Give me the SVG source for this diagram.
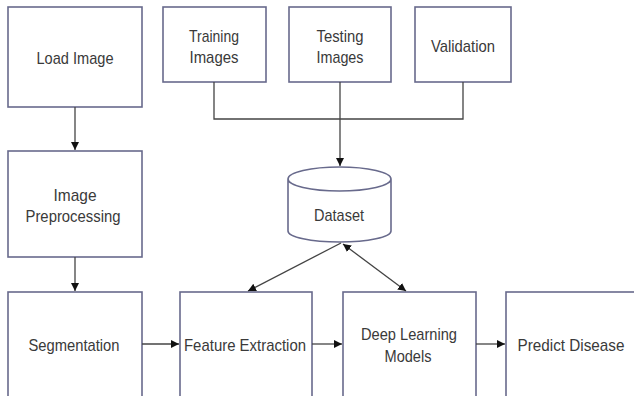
<svg xmlns="http://www.w3.org/2000/svg" width="634" height="396" viewBox="0 0 634 396">
<style>
.box{fill:#fff;stroke:#686a8c;stroke-width:1.6}
.t{font-family:"Liberation Sans",Arial,sans-serif;font-size:17px;fill:#3a3a3a;text-anchor:middle}
.c{fill:none;stroke:#444;stroke-width:1.3}
</style>
<defs>
<marker id="ah" viewBox="0 0 10 10" refX="10" refY="5" markerWidth="8" markerHeight="8" markerUnits="userSpaceOnUse" orient="auto-start-reverse">
<path d="M0,0 L10,5 L0,10 z" fill="#111"/>
</marker>
</defs>
<rect width="634" height="396" fill="#fff"/>
<g id="load-image"><rect class="box" x="8" y="7" width="134" height="100"/><text class="t" x="75" y="64" textLength="77" lengthAdjust="spacingAndGlyphs">Load Image</text></g>
<g id="image-preprocessing"><rect class="box" x="8" y="151" width="134" height="106"/><text class="t" x="75" y="201" textLength="43" lengthAdjust="spacingAndGlyphs">Image</text><text class="t" x="73" y="222" textLength="95" lengthAdjust="spacingAndGlyphs">Preprocessing</text></g>
<g id="segmentation"><rect class="box" x="8" y="292" width="134" height="110"/><text class="t" x="74" y="351" textLength="91" lengthAdjust="spacingAndGlyphs">Segmentation</text></g>
<g id="training-images"><rect class="box" x="163" y="7" width="103" height="75"/><text class="t" x="214" y="42" textLength="50" lengthAdjust="spacingAndGlyphs">Training</text><text class="t" x="214" y="63" textLength="49" lengthAdjust="spacingAndGlyphs">Images</text></g>
<g id="testing-images"><rect class="box" x="289" y="7" width="102" height="75"/><text class="t" x="340" y="42" textLength="47" lengthAdjust="spacingAndGlyphs">Testing</text><text class="t" x="340" y="63" textLength="47" lengthAdjust="spacingAndGlyphs">Images</text></g>
<g id="validation"><rect class="box" x="415" y="7" width="96" height="75"/><text class="t" x="463" y="52" textLength="64" lengthAdjust="spacingAndGlyphs">Validation</text></g>
<g id="dataset"><path class="box" d="M288,179 L288,231 A51.5,11 0 0 0 391,231 L391,179 A51.5,12 0 0 0 288,179 A51.5,12 0 0 0 391,179"/><text class="t" x="339" y="221" textLength="50" lengthAdjust="spacingAndGlyphs">Dataset</text></g>
<g id="feature-extraction"><rect class="box" x="180" y="292" width="132" height="110"/><text class="t" x="245" y="351" textLength="122" lengthAdjust="spacingAndGlyphs">Feature Extraction</text></g>
<g id="deep-learning-models"><rect class="box" x="343" y="292" width="133" height="110"/><text class="t" x="409" y="340" textLength="96" lengthAdjust="spacingAndGlyphs">Deep Learning</text><text class="t" x="408" y="362" textLength="47" lengthAdjust="spacingAndGlyphs">Models</text></g>
<g id="predict-disease"><rect class="box" x="506" y="292" width="129" height="110"/><text class="t" x="571" y="351" textLength="107" lengthAdjust="spacingAndGlyphs">Predict Disease</text></g>
<g id="connectors">
<line class="c" x1="75" y1="107" x2="75" y2="150" marker-end="url(#ah)"/>
<line class="c" x1="75" y1="257" x2="75" y2="291" marker-end="url(#ah)"/>
<polyline class="c" points="214,82 214,119 463,119 463,82"/>
<line class="c" x1="340" y1="82" x2="340" y2="166" marker-end="url(#ah)"/>
<line class="c" x1="341" y1="243" x2="248" y2="291" marker-end="url(#ah)"/>
<line class="c" x1="343" y1="244" x2="406" y2="291" marker-start="url(#ah)" marker-end="url(#ah)"/>
<line class="c" x1="142" y1="344" x2="179" y2="344" marker-end="url(#ah)"/>
<line class="c" x1="312" y1="344" x2="342" y2="344" marker-end="url(#ah)"/>
<line class="c" x1="476" y1="344" x2="505" y2="344" marker-end="url(#ah)"/>
</g>
</svg>
